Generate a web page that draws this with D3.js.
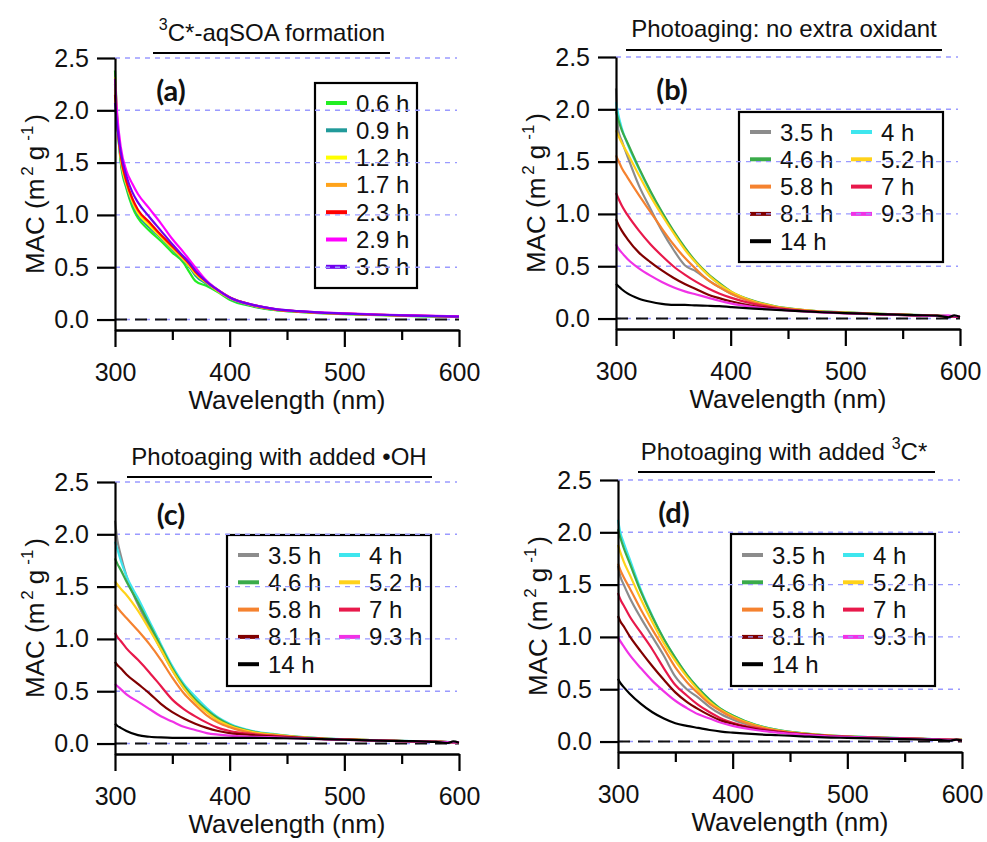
<!DOCTYPE html>
<html>
<head>
<meta charset="utf-8">
<script src="https://cdn.jsdelivr.net/npm/d3@7"></script>
<style>
	body { margin: 0; background: #fff; }
	svg { display: block; font-family: 'Liberation Sans', Arial, sans-serif; }
</style>
</head>
<body>
<svg id="fig" width="987" height="842"></svg>
<script>
// wavelengths (nm)
const wlA = [300, 302, 305, 310, 315, 320, 330, 340, 350, 360, 365, 370, 380, 390, 400, 420, 440, 460, 480, 500, 530, 560, 600];
const wlAging = [300, 302, 305, 310, 320, 330, 340, 350, 360, 370, 380, 390, 400, 420, 440, 460, 480, 500, 530, 560, 580, 590, 595, 600];

// (a) 3C*-aqSOA formation
const labelsA = ['0.6 h', '0.9 h', '1.2 h', '1.7 h', '2.3 h', '2.9 h', '3.5 h'];
const colorsA = ['#22ee22', '#219a9a', '#ffff00', '#ffa31a', '#ff0000', '#ff00ff', '#7000ee'];
const macA = [
	[2.38, 1.9, 1.5, 1.25, 1.08, 0.97, 0.85, 0.75, 0.64, 0.54, 0.45, 0.37, 0.32, 0.26, 0.19, 0.125, 0.09, 0.072, 0.06, 0.052, 0.042, 0.033, 0.025],
	[2.25, 1.88, 1.52, 1.27, 1.11, 1.0, 0.88, 0.78, 0.67, 0.56, 0.5, 0.42, 0.34, 0.27, 0.2, 0.13, 0.093, 0.074, 0.062, 0.054, 0.044, 0.035, 0.026],
	[2.32, 1.9, 1.54, 1.29, 1.13, 1.02, 0.9, 0.79, 0.68, 0.57, 0.51, 0.44, 0.35, 0.27, 0.205, 0.135, 0.095, 0.076, 0.063, 0.055, 0.045, 0.036, 0.027],
	[2.2, 1.88, 1.56, 1.31, 1.15, 1.04, 0.92, 0.8, 0.69, 0.58, 0.52, 0.45, 0.355, 0.275, 0.21, 0.138, 0.097, 0.077, 0.064, 0.056, 0.046, 0.036, 0.028],
	[2.15, 1.86, 1.57, 1.32, 1.16, 1.05, 0.93, 0.81, 0.7, 0.59, 0.53, 0.46, 0.36, 0.28, 0.213, 0.14, 0.098, 0.078, 0.065, 0.057, 0.046, 0.037, 0.029],
	[2.3, 1.95, 1.65, 1.42, 1.3, 1.2, 1.06, 0.92, 0.77, 0.64, 0.57, 0.5, 0.37, 0.28, 0.21, 0.14, 0.1, 0.08, 0.068, 0.06, 0.048, 0.04, 0.03],
	[2.07, 1.85, 1.6, 1.37, 1.22, 1.12, 0.98, 0.85, 0.72, 0.6, 0.54, 0.47, 0.36, 0.28, 0.21, 0.14, 0.1, 0.08, 0.066, 0.057, 0.046, 0.037, 0.028]
];

// (b)-(d) photoaging, same legend for all three
const labelsAging = ['3.5 h', '4 h', '4.6 h', '5.2 h', '5.8 h', '7 h', '8.1 h', '9.3 h', '14 h'];
const colorsAging = ['#8c8c8c', '#3ee6ee', '#3aab4a', '#ffd21a', '#f5822f', '#e8194b', '#800000', '#f032e6', '#000000'];

const macB = [
	[2.2, 1.8, 1.7, 1.55, 1.27, 1.05, 0.84, 0.66, 0.51, 0.45, 0.37, 0.3, 0.24, 0.16, 0.11, 0.083, 0.066, 0.056, 0.043, 0.033, 0.026, 0.022, 0.02, 0.018],
	[2.07, 1.95, 1.82, 1.67, 1.43, 1.21, 1.01, 0.83, 0.67, 0.53, 0.42, 0.33, 0.255, 0.165, 0.112, 0.084, 0.067, 0.057, 0.044, 0.034, 0.027, 0.023, 0.02, 0.018],
	[1.98, 1.9, 1.8, 1.68, 1.44, 1.22, 1.02, 0.84, 0.68, 0.54, 0.43, 0.34, 0.26, 0.17, 0.115, 0.086, 0.068, 0.058, 0.045, 0.035, 0.028, 0.024, 0.021, 0.019],
	[1.8, 1.75, 1.68, 1.58, 1.37, 1.17, 0.99, 0.82, 0.66, 0.53, 0.42, 0.33, 0.26, 0.165, 0.113, 0.085, 0.067, 0.057, 0.044, 0.034, 0.027, 0.023, 0.02, 0.018],
	[1.56, 1.51, 1.44, 1.35, 1.18, 1.02, 0.86, 0.71, 0.58, 0.47, 0.37, 0.3, 0.24, 0.155, 0.108, 0.082, 0.065, 0.055, 0.043, 0.033, 0.026, 0.022, 0.019, 0.017],
	[1.2, 1.15, 1.08, 0.99, 0.84, 0.71, 0.6, 0.5, 0.42, 0.35, 0.29, 0.24, 0.2, 0.14, 0.1, 0.077, 0.062, 0.053, 0.041, 0.032, 0.025, 0.021, 0.018, 0.016],
	[0.95, 0.9, 0.84, 0.76, 0.63, 0.54, 0.46, 0.39, 0.33, 0.28, 0.23, 0.195, 0.165, 0.12, 0.092, 0.073, 0.06, 0.051, 0.04, 0.031, 0.025, 0.021, 0.018, 0.016],
	[0.71, 0.67, 0.63, 0.57, 0.48, 0.41, 0.35, 0.3, 0.26, 0.23, 0.2, 0.17, 0.145, 0.11, 0.087, 0.07, 0.058, 0.05, 0.04, 0.031, 0.025, 0.03, 0.02, 0.022],
	[0.33, 0.31, 0.28, 0.24, 0.19, 0.16, 0.14, 0.13, 0.13, 0.125, 0.122, 0.118, 0.11, 0.095, 0.082, 0.07, 0.06, 0.052, 0.042, 0.033, 0.028, 0.012, 0.03, 0.015]
];

const macC = [
	[2.13, 1.95, 1.8, 1.6, 1.33, 1.11, 0.9, 0.7, 0.53, 0.41, 0.31, 0.235, 0.175, 0.11, 0.08, 0.06, 0.048, 0.04, 0.03, 0.022, 0.017, 0.014, 0.013, 0.012],
	[1.93, 1.86, 1.75, 1.6, 1.39, 1.17, 0.95, 0.74, 0.57, 0.45, 0.34, 0.25, 0.19, 0.12, 0.088, 0.065, 0.05, 0.041, 0.031, 0.023, 0.018, 0.015, 0.013, 0.012],
	[1.77, 1.72, 1.66, 1.55, 1.35, 1.14, 0.93, 0.72, 0.55, 0.42, 0.32, 0.24, 0.18, 0.115, 0.085, 0.063, 0.049, 0.04, 0.03, 0.022, 0.017, 0.014, 0.013, 0.012],
	[1.55, 1.52, 1.48, 1.42, 1.27, 1.09, 0.9, 0.7, 0.53, 0.4, 0.3, 0.22, 0.17, 0.11, 0.082, 0.062, 0.048, 0.04, 0.03, 0.022, 0.017, 0.014, 0.013, 0.012],
	[1.33, 1.3, 1.26, 1.2, 1.08, 0.95, 0.8, 0.63, 0.48, 0.37, 0.27, 0.2, 0.155, 0.1, 0.078, 0.06, 0.047, 0.039, 0.03, 0.022, 0.017, 0.014, 0.013, 0.012],
	[1.06, 1.02, 0.98, 0.91, 0.8, 0.68, 0.55, 0.42, 0.33, 0.26, 0.2, 0.15, 0.12, 0.09, 0.072, 0.057, 0.045, 0.038, 0.029, 0.021, 0.017, 0.014, 0.013, 0.012],
	[0.78, 0.75, 0.72, 0.66, 0.57, 0.48, 0.38, 0.3, 0.24, 0.19, 0.15, 0.12, 0.1, 0.08, 0.066, 0.054, 0.044, 0.037, 0.028, 0.021, 0.016, 0.014, 0.012, 0.011],
	[0.57, 0.55, 0.52, 0.47, 0.4, 0.33, 0.26, 0.21, 0.16, 0.13, 0.1, 0.085, 0.075, 0.065, 0.058, 0.05, 0.042, 0.035, 0.027, 0.02, 0.016, 0.013, 0.012, 0.011],
	[0.19, 0.17, 0.15, 0.12, 0.08, 0.065, 0.058, 0.055, 0.055, 0.055, 0.055, 0.055, 0.055, 0.055, 0.052, 0.048, 0.042, 0.036, 0.028, 0.024, 0.015, 0.005, 0.02, 0.008]
];

const macD = [
	[1.68, 1.58, 1.5, 1.38, 1.18, 1.0, 0.82, 0.62, 0.5, 0.42, 0.33, 0.26, 0.21, 0.14, 0.098, 0.074, 0.057, 0.046, 0.035, 0.026, 0.021, 0.018, 0.016, 0.015],
	[2.12, 2.0, 1.9, 1.75, 1.45, 1.2, 0.98, 0.8, 0.64, 0.51, 0.4, 0.31, 0.25, 0.16, 0.11, 0.08, 0.06, 0.05, 0.037, 0.028, 0.022, 0.018, 0.016, 0.015],
	[2.03, 1.95, 1.85, 1.71, 1.43, 1.19, 0.98, 0.8, 0.64, 0.51, 0.4, 0.31, 0.25, 0.16, 0.11, 0.08, 0.061, 0.05, 0.037, 0.028, 0.022, 0.018, 0.016, 0.015],
	[1.88, 1.81, 1.72, 1.6, 1.36, 1.14, 0.94, 0.77, 0.62, 0.49, 0.38, 0.3, 0.24, 0.155, 0.105, 0.078, 0.059, 0.048, 0.036, 0.027, 0.021, 0.018, 0.016, 0.015],
	[1.7, 1.64, 1.57, 1.47, 1.26, 1.07, 0.89, 0.71, 0.57, 0.46, 0.36, 0.29, 0.23, 0.15, 0.102, 0.076, 0.058, 0.047, 0.036, 0.027, 0.021, 0.018, 0.016, 0.015],
	[1.42, 1.36, 1.3, 1.2, 1.04, 0.88, 0.7, 0.54, 0.44, 0.35, 0.28, 0.22, 0.18, 0.13, 0.095, 0.072, 0.056, 0.046, 0.035, 0.026, 0.02, 0.017, 0.015, 0.014],
	[1.2, 1.15, 1.1, 1.01, 0.86, 0.72, 0.59, 0.47, 0.38, 0.31, 0.25, 0.2, 0.17, 0.12, 0.09, 0.07, 0.055, 0.045, 0.034, 0.026, 0.02, 0.017, 0.015, 0.014],
	[1.0, 0.96, 0.91, 0.83, 0.7, 0.58, 0.48, 0.39, 0.32, 0.26, 0.22, 0.18, 0.15, 0.11, 0.085, 0.067, 0.053, 0.044, 0.033, 0.025, 0.02, 0.017, 0.015, 0.014],
	[0.6, 0.56, 0.52, 0.46, 0.36, 0.28, 0.22, 0.175, 0.15, 0.13, 0.11, 0.095, 0.085, 0.07, 0.06, 0.05, 0.04, 0.035, 0.028, 0.02, 0.016, 0.008, 0.018, 0.01]
];

const xTicks = [300, 400, 500, 600];
const xMinor = [350, 450, 550];
const yTicks = [0, 0.5, 1.0, 1.5, 2.0, 2.5];

// panel layout
const panels = [
	{ tag: '(a)', wl: wlA, series: macA, labels: labelsA, colors: colorsA,
		left: 115, top: 58, base: 330,
		title: [['3', true], ['C*-aqSOA formation', false]], tx: 272, ty: 41, ul: [153, 390, 53],
		legend: { x: 315, y: 83, w: 102, h: 205, row0: 103, ncol: 1 } },
	{ tag: '(b)', wl: wlAging, series: macB, labels: labelsAging, colors: colorsAging,
		left: 616, top: 57, base: 329,
		title: [['Photoaging: no extra oxidant', false]], tx: 784, ty: 37, ul: [626, 942, 50],
		legend: { x: 739, y: 112, w: 204, h: 150, row0: 132, ncol: 2 } },
	{ tag: '(c)', wl: wlAging, series: macC, labels: labelsAging, colors: colorsAging,
		left: 115, top: 482, base: 754,
		title: [['Photoaging with added \u2022OH', false]], tx: 279, ty: 465, ul: [127, 432, 477],
		legend: { x: 227, y: 535, w: 204, h: 151, row0: 555, ncol: 2 } },
	{ tag: '(d)', wl: wlAging, series: macD, labels: labelsAging, colors: colorsAging,
		left: 618, top: 480, base: 752,
		title: [['Photoaging with added ', false], ['3', true], ['C*', false]], tx: 784, ty: 460, ul: [638, 935, 472],
		legend: { x: 731, y: 534, w: 204, h: 152, row0: 555, ncol: 2 } }
];

const svg = d3.select('#fig');
const plotW = 344;

function drawPanel (p) {
	const g = svg.append('g');
	const x = d3.scaleLinear().domain([300, 600]).range([p.left, p.left + plotW]);
	const y = d3.scaleLinear().domain([-0.1, 2.5]).range([p.base, p.top]);

	// title + underline
	const t = g.append('text')
		.attr('x', p.tx).attr('y', p.ty)
		.attr('text-anchor', 'middle')
		.style('font-size', '24px')
		.attr('fill', '#111');
	p.title.forEach(([s, sup], i) => {
		const prevSup = i > 0 && p.title[i - 1][1];
		t.append('tspan')
			.attr('dy', sup ? -11 : (prevSup ? 11 : 0))
			.style('font-size', sup ? '16px' : '24px')
			.text(s);
	});
	g.append('line')
		.attr('x1', p.ul[0]).attr('x2', p.ul[1])
		.attr('y1', p.ul[2]).attr('y2', p.ul[2])
		.attr('stroke', '#000').attr('stroke-width', 2);

	// legend (no fill, grid shows through)
	const lg = p.legend;
	g.append('rect')
		.attr('x', lg.x).attr('y', lg.y).attr('width', lg.w).attr('height', lg.h)
		.attr('fill', 'none').attr('stroke', '#000').attr('stroke-width', 2.2);
	p.labels.forEach((lab, i) => {
		const col = i % lg.ncol;
		const row = Math.floor(i / lg.ncol);
		const x0 = lg.x + 11 + col * 101;
		const cy = lg.row0 + row * 27.3;
		g.append('line')
			.attr('x1', x0).attr('x2', x0 + 21)
			.attr('y1', cy).attr('y2', cy)
			.attr('stroke', p.colors[i]).attr('stroke-width', 4);
		g.append('text')
			.attr('x', x0 + 30).attr('y', cy + 8.5)
			.style('font-size', '24px')
			.attr('fill', '#111')
			.text(lab);
	});

	// grid
	g.append('g').selectAll('line')
		.data(yTicks)
		.join('line')
			.attr('x1', p.left).attr('x2', p.left + plotW - 2)
			.attr('y1', d => y(d)).attr('y2', d => y(d))
			.attr('stroke', '#9a9aff').attr('stroke-width', 1.4)
			.attr('stroke-dasharray', '5,5');

	// zero line
	g.append('line')
		.attr('x1', p.left).attr('x2', p.left + plotW)
		.attr('y1', y(0)).attr('y2', y(0))
		.attr('stroke', '#111').attr('stroke-width', 2)
		.attr('stroke-dasharray', '12,8');

	// curves
	const line = d3.line()
		.x((d, i) => x(p.wl[i]))
		.y(d => y(d))
		.curve(d3.curveMonotoneX);
	g.append('g').selectAll('path')
		.data(p.series)
		.join('path')
			.attr('d', line)
			.attr('fill', 'none')
			.attr('stroke', (d, i) => p.colors[i])
			.attr('stroke-width', 2.2);

	// axes
	const yAxis = g.append('g')
		.attr('transform', `translate(${p.left},0)`)
		.call(d3.axisLeft(y).tickValues(yTicks).tickFormat(d3.format('.1f')).tickSize(18).tickSizeOuter(0).tickPadding(8));
	const xAxis = g.append('g')
		.attr('transform', `translate(0,${p.base})`)
		.call(d3.axisBottom(x).tickValues(xTicks).tickFormat(d3.format('d')).tickSize(17).tickSizeOuter(0).tickPadding(16));
	const xAxisMinor = g.append('g')
		.attr('transform', `translate(0,${p.base})`)
		.call(d3.axisBottom(x).tickValues(xMinor).tickFormat('').tickSize(10).tickSizeOuter(0));
	[yAxis, xAxis, xAxisMinor].forEach(a => {
		a.select('.domain').attr('stroke', '#000').attr('stroke-width', 2.2);
		a.selectAll('.tick line').attr('stroke', '#000').attr('stroke-width', 2.2);
		a.selectAll('.tick text')
			.attr('fill', '#111')
			.style('font-size', '25px')
			.style('font-family', "'Liberation Sans', Arial, sans-serif");
	});

	// axis titles
	g.append('text')
		.attr('x', p.left + plotW / 2).attr('y', p.base + 79)
		.attr('text-anchor', 'middle')
		.style('font-size', '26px')
		.attr('fill', '#111')
		.text('Wavelength (nm)');

	const yt = g.append('text')
		.attr('transform', `translate(${p.left - 71},${(p.top + p.base) / 2}) rotate(-90)`)
		.attr('text-anchor', 'middle')
		.style('font-size', '26px')
		.attr('fill', '#111');
	yt.append('tspan').text('MAC (m');
	yt.append('tspan').attr('dx', 3).attr('dy', -11).style('font-size', '17px').text('2');
	yt.append('tspan').attr('dx', 6).attr('dy', 11).text('g');
	yt.append('tspan').attr('dx', 5).attr('dy', -11).style('font-size', '17px').text('-1');
	yt.append('tspan').attr('dx', 3).attr('dy', 11).text(')');

	// panel tag
	g.append('text')
		.attr('x', p.left + 56).attr('y', p.top + 43)
		.attr('text-anchor', 'middle')
		.style('font-family', 'Lato, sans-serif')
		.style('font-weight', 'bold')
		.style('font-size', '29px')
		.attr('fill', '#111')
		.text(p.tag);
}

panels.forEach(drawPanel);
</script>
</body>
</html>
